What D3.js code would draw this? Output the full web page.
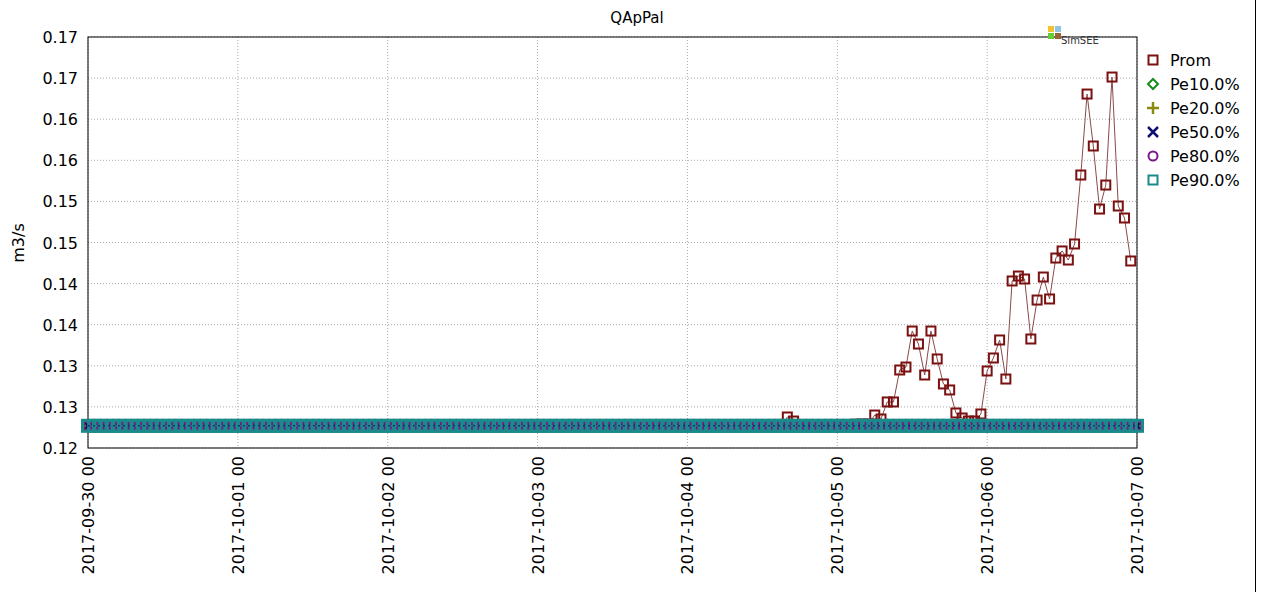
<!DOCTYPE html>
<html><head><meta charset="utf-8">
<script src="https://cdn.jsdelivr.net/npm/d3@7"></script>
<style>body{margin:0;background:#fff;font-family:"DejaVu Sans",sans-serif}</style>
</head><body><div id="chart"></div>
<script>
var title = "QApPal";
var yLabel = "m3/s";
var nHours = 169;
var baseVal = 0.1227;
var yTicks = [0.12, 0.125, 0.13, 0.135, 0.14, 0.145, 0.15, 0.155, 0.16, 0.165, 0.17];
var yTickLabels = ["0.12","0.13","0.13","0.14","0.14","0.15","0.15","0.16","0.16","0.17","0.17"];
var dayTicks = ["2017-09-30 00","2017-10-01 00","2017-10-02 00","2017-10-03 00","2017-10-04 00","2017-10-05 00","2017-10-06 00","2017-10-07 00"];
// Prom: hourly, flat at base except these hours (hour index -> value)
var promHours = [112,113,123,124,125,126,127,128,129,130,131,132,133,134,135,136,137,138,139,140,141,142,143,144,145,146,147,148,149,150,151,152,153,154,155,156,157,158,159,160,161,162,163,164,165,166,167];
var promVals = [0.12377,0.12328,0.1229,0.12292,0.12292,0.12401,0.12353,0.12560,0.12560,0.12949,0.12985,0.13423,0.13265,0.12888,0.13423,0.13083,0.12779,0.12706,0.12426,0.12365,0.12328,0.12328,0.12414,0.12937,0.13095,0.13314,0.12839,0.14032,0.14092,0.14056,0.13326,0.13800,0.14080,0.13813,0.14311,0.14397,0.14287,0.14482,0.15321,0.16306,0.15674,0.14907,0.15199,0.16513,0.14944,0.14798,0.14275];
var pe10 = [], pe20 = [], pe50 = [], pe80 = [], pe90 = [], prom = [];
for (var i = 0; i < nHours; i++) { pe10.push(baseVal); pe20.push(baseVal); pe50.push(baseVal); pe80.push(baseVal); pe90.push(baseVal); }
for (var i = 0; i < 168; i++) { var k = promHours.indexOf(i); prom.push(k >= 0 ? promVals[k] : baseVal); }

var W = 1263, H = 592;
var m = {l: 88, r: 1137, t: 37, b: 448};
var svg = d3.select("#chart").append("svg").attr("width", W).attr("height", H);

var x = d3.scaleLinear().domain([0, 168]).range([m.l, m.r]);
var y = d3.scaleLinear().domain([0.12, 0.17]).range([m.b, m.t]);

// grid
svg.append("g").selectAll("line").data(yTicks).enter().append("line")
  .attr("x1", m.l).attr("x2", m.r).attr("y1", d => y(d)).attr("y2", d => y(d))
  .attr("stroke", "#aaa").attr("stroke-dasharray", "1,2");
svg.append("g").selectAll("line").data(dayTicks).enter().append("line")
  .attr("x1", (d, i) => x(i * 24)).attr("x2", (d, i) => x(i * 24)).attr("y1", m.t).attr("y2", m.b)
  .attr("stroke", "#aaa").attr("stroke-dasharray", "1,2");

svg.append("rect").attr("x", m.l).attr("y", m.t).attr("width", m.r - m.l).attr("height", m.b - m.t)
  .attr("fill", "none").attr("stroke", "#000").attr("stroke-width", 1);
svg.append("line").attr("x1", 1255.5).attr("x2", 1255.5).attr("y1", 0).attr("y2", H).attr("stroke", "#000");

// tick labels
svg.append("g").selectAll("text").data(yTicks).enter().append("text")
  .attr("x", 78).attr("y", d => y(d) + 6).attr("text-anchor", "end")
  .attr("font-size", 16).text((d, i) => yTickLabels[i]);
svg.append("g").selectAll("text").data(dayTicks).enter().append("text")
  .attr("transform", (d, i) => "translate(" + (x(i * 24) + 6) + ",456) rotate(-90)")
  .attr("text-anchor", "end").attr("font-size", 16).text(d => d);

svg.append("text").attr("x", 637).attr("y", 23).attr("text-anchor", "middle").attr("font-size", 15).text(title);
svg.append("text").attr("transform", "translate(24,243) rotate(-90)").attr("text-anchor", "middle").attr("font-size", 16).text(yLabel);

// logo
svg.append("rect").attr("x", 1048).attr("y", 26).attr("width", 6).attr("height", 6).attr("fill", "#f2c230");
svg.append("rect").attr("x", 1055).attr("y", 26).attr("width", 6).attr("height", 6).attr("fill", "#8fc6e8");
svg.append("rect").attr("x", 1048).attr("y", 33).attr("width", 6).attr("height", 6).attr("fill", "#66cc33");
svg.append("rect").attr("x", 1055).attr("y", 33).attr("width", 6).attr("height", 6).attr("fill", "#996633");
svg.append("text").attr("x", 1061).attr("y", 44).attr("font-size", 10).attr("fill", "#333").text("SimSEE");

function marker(g, type, color, big) {
  var s = big ? 5.5 : 4.5, w = big ? 3 : 2;
  if (type === "sq") return g.append("rect").attr("x", -s).attr("y", -s).attr("width", 2 * s).attr("height", 2 * s).attr("fill", "none").attr("stroke", color).attr("stroke-width", w);
  if (type === "dia") return g.append("path").attr("d", "M0,-5L5,0L0,5L-5,0Z").attr("fill", "none").attr("stroke", color).attr("stroke-width", 2);
  if (type === "plus") return g.append("path").attr("d", "M-6,0H6M0,-6V6").attr("stroke", color).attr("stroke-width", 2.5);
  if (type === "x") return g.append("path").attr("d", "M-5,-5L5,5M-5,5L5,-5").attr("stroke", color).attr("stroke-width", 2.5);
  if (type === "circ") return g.append("circle").attr("r", 4.5).attr("fill", "none").attr("stroke", color).attr("stroke-width", 2);
}

var series = [
  {name: "Prom", data: prom, color: "#7b1010", type: "sq", line: "#8a4a4a"},
  {name: "Pe10.0%", data: pe10, color: "#1a8a1a", type: "dia"},
  {name: "Pe20.0%", data: pe20, color: "#8a8a10", type: "plus"},
  {name: "Pe50.0%", data: pe50, color: "#101070", type: "x"},
  {name: "Pe80.0%", data: pe80, color: "#7a1a8a", type: "circ"},
  {name: "Pe90.0%", data: pe90, color: "#1a8a8a", type: "sq", big: true}
];

var line = d3.line().x((d, i) => x(i)).y(d => y(d));
series.forEach(function (s, si) {
  svg.append("path").datum(s.data).attr("d", line).attr("fill", "none")
    .attr("stroke", s.line || s.color).attr("stroke-width", 1);
  var g = svg.append("g");
  s.data.forEach(function (v, i) {
    var mg = g.append("g").attr("transform", "translate(" + x(i) + "," + y(v) + ")");
    marker(mg, s.type, s.color, s.big);
  });
  var lg = svg.append("g").attr("transform", "translate(1153," + (60 + si * 24) + ")");
  marker(lg, s.type, s.color);
  svg.append("text").attr("x", 1170).attr("y", 66 + si * 24).attr("font-size", 16).text(s.name);
});
// dark centre line over the band, as in the reference
svg.append("path").datum(pe50).attr("d", line).attr("fill", "none").attr("stroke", "#101070").attr("stroke-width", 1).attr("stroke-dasharray", "2,3");
</script></body></html>
